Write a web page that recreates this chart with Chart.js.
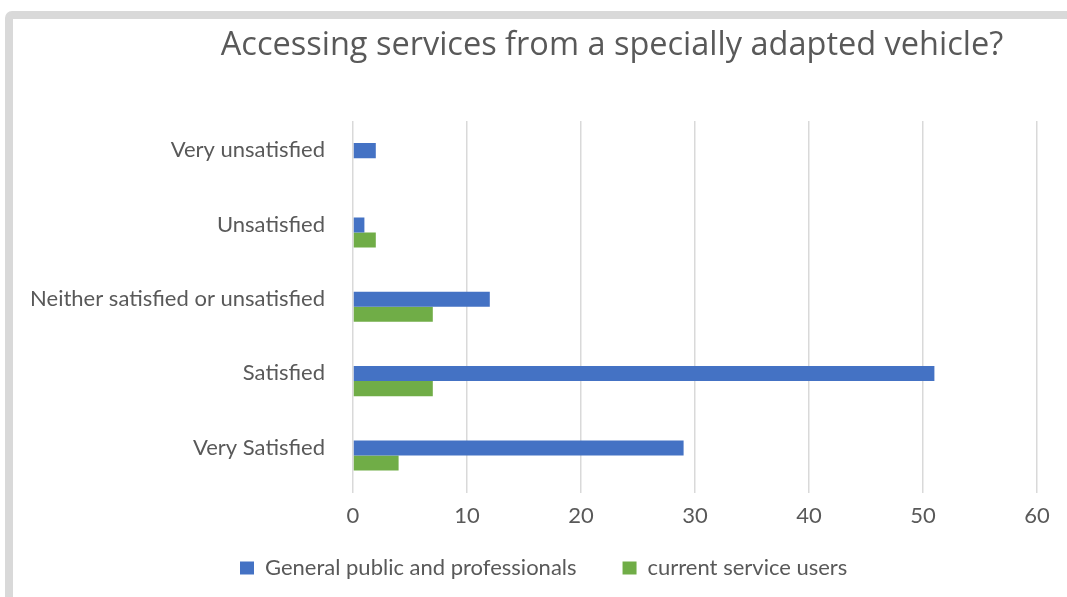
<!DOCTYPE html>
<html><head><meta charset="utf-8">
<script src="https://cdn.jsdelivr.net/npm/chart.js@4.4.1/dist/chart.umd.min.js"></script>
<style>
html,body{margin:0;padding:0;width:1067px;height:597px;overflow:hidden;background:#fff;}
#frame{position:absolute;left:5px;top:11px;width:1200px;height:800px;border:8px solid #d9d9d9;border-radius:7px;box-sizing:border-box;}
#wrap{position:absolute;left:13px;top:18px;width:1198px;height:599px;}
</style></head><body>
<div id="frame"></div>
<div id="wrap"><canvas id="c" width="1198" height="599"></canvas></div>
<script>
const categories = ['Very unsatisfied', 'Unsatisfied', 'Neither satisfied or unsatisfied', 'Satisfied', 'Very Satisfied'];
const seriesNames = ['General public and professionals', 'current service users'];
const generalPublic = [2, 1, 12, 51, 29];
const serviceUsers = [0, 2, 7, 7, 4];
const xTickValues = [0, 10, 20, 30, 40, 50, 60];
const chartTitle = 'Accessing services from a specially adapted vehicle?';

const textColor = '#595959';
const fontFam = 'Lato';

const boxPlacer = {
  id: 'boxPlacer',
  afterLayout(chart) {
    const lg = chart.legend;
    const w = lg.width, h = lg.height;
    lg.left = 181; lg.right = lg.left + w;
    lg.top = 493; lg.bottom = lg.top + h;
    const tb = chart.titleBlock;
    const tw = tb.right - tb.left;
    tb.left = 599 - tw / 2; tb.right = tb.left + tw;
  }
};

new Chart(document.getElementById('c'), {
  type: 'bar',
  data: {
    labels: categories,
    datasets: [
      { label: seriesNames[0], data: generalPublic, backgroundColor: '#4472C4' },
      { label: seriesNames[1], data: serviceUsers, backgroundColor: '#70AD47' }
    ]
  },
  plugins: [boxPlacer],
  options: {
    responsive: false,
    animation: false,
    devicePixelRatio: 1,
    indexAxis: 'y',
    layout: { padding: { left: 0, right: 174, top: 0, bottom: 0 } },
    datasets: { bar: { barPercentage: 1, categoryPercentage: 0.4054 } },
    scales: {
      x: {
        min: xTickValues[0], max: xTickValues[xTickValues.length - 1],
        afterBuildTicks(s) { s.ticks = xTickValues.map(v => ({ value: v })); },
        ticks: { color: textColor, font: { family: fontFam, size: 22 }, padding: 10 },
        grid: { color: '#d9d9d9', lineWidth: 1.5, drawTicks: false },
        border: { display: false }
      },
      y: {
        ticks: { color: textColor, font: { family: fontFam, size: 22 }, padding: 28, labelOffset: -8 },
        grid: { display: false, drawTicks: false },
        border: { display: false },
        afterFit(s) { s.width = 340; }
      }
    },
    plugins: {
      title: {
        display: true, text: chartTitle, color: textColor,
        font: { family: 'Open Sans', size: 32.5, weight: 'normal' },
        padding: { top: 8, bottom: 56 }
      },
      legend: {
        position: 'bottom', align: 'start',
        labels: { boxWidth: 14, boxHeight: 13, padding: 46, color: textColor, font: { family: fontFam, size: 22 } }
      },
      tooltip: { enabled: false }
    }
  }
});
</script>
</body></html>
